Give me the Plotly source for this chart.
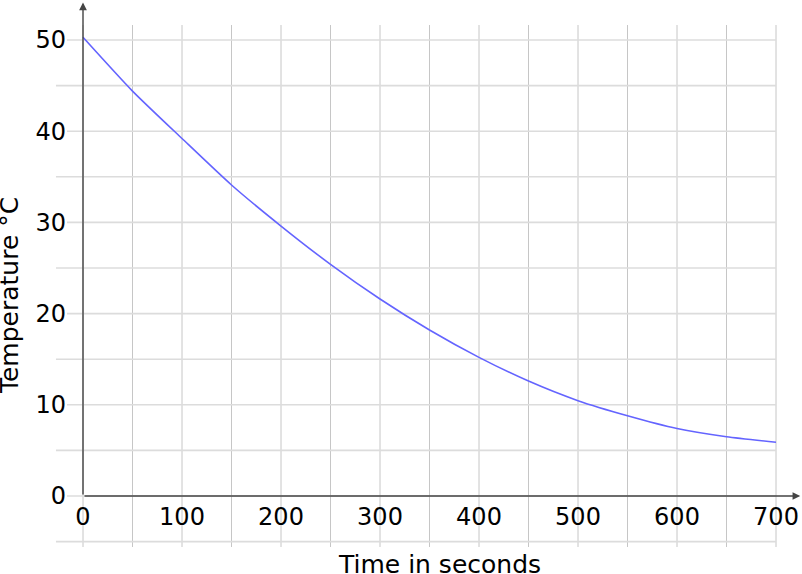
import plotly.graph_objects as go

# ---- data ----
time_s = [0, 50, 100, 150, 200, 250, 300, 350, 400, 450, 500, 550, 600, 650, 700]
temperature = [50.3, 44.4, 39.2, 34.1, 29.6, 25.4, 21.6, 18.2, 15.2, 12.6, 10.45, 8.8, 7.4, 6.5, 5.9]
x_ticks = [0, 100, 200, 300, 400, 500, 600, 700]
y_ticks = [0, 10, 20, 30, 40, 50]
x_grid = list(range(0, 701, 50))
y_grid = list(range(-5, 51, 5))

# ---- geometry (axis ranges cover the whole figure) ----
W, H = 802, 574
XMIN, XMAX = -83.84, 726.26
YMIN, YMAX = -8.553, 54.386
FONT = "DejaVu Sans"

fig = go.Figure()
fig.add_trace(go.Scatter(
    x=time_s, y=temperature, mode="lines",
    line=dict(color="#6464ff", width=1.6, shape="spline", smoothing=0.6),
    hoverinfo="skip", showlegend=False,
))

shapes = []
for xv in x_grid:
    shapes.append(dict(type="line", xref="x", yref="y", x0=xv, x1=xv, y0=-5.59, y1=51.64,
                       line=dict(color="#c6c6c6", width=1), layer="below"))
for yv in y_grid:
    x0 = -16.2 if yv in y_ticks else -27.3
    shapes.append(dict(type="line", xref="x", yref="y", x0=x0, x1=700, y0=yv, y1=yv,
                       line=dict(color="#dcdcdc", width=1.6), layer="below"))

annotations = [
    # x axis with arrow
    dict(x=724.5, y=0, ax=0, ay=0, xref="x", yref="y", axref="x", ayref="y",
         text="", showarrow=True, arrowhead=2, arrowsize=1.1, arrowwidth=1.4, arrowcolor="#444"),
    # y axis with arrow
    dict(x=0, y=54.1, ax=0, ay=0, xref="x", yref="y", axref="x", ayref="y",
         text="", showarrow=True, arrowhead=2, arrowsize=1.1, arrowwidth=1.4, arrowcolor="#444"),
    dict(x=359.6, y=-7.55, xref="x", yref="y", text="Time in seconds", showarrow=False,
         font=dict(family=FONT, size=25, color="black"), xanchor="center", yanchor="middle"),
    dict(x=-74.0, y=22.0, xref="x", yref="y", text="Temperature °C", showarrow=False,
         textangle=-90, font=dict(family=FONT, size=25, color="black"),
         xanchor="center", yanchor="middle"),
]

fig.update_layout(
    width=W, height=H,
    margin=dict(l=0, r=0, t=0, b=0, pad=0),
    paper_bgcolor="white", plot_bgcolor="white",
    font=dict(family=FONT, size=24, color="black"),
    shapes=shapes, annotations=annotations,
    xaxis=dict(range=[XMIN, XMAX], domain=[0, 1], showgrid=False, zeroline=False,
               showline=False, tickmode="array", tickvals=x_ticks,
               ticktext=[str(v) for v in x_ticks], ticks="", anchor="free",
               position=(0 - YMIN) / (YMAX - YMIN), side="bottom",
               ticklabelstandoff=4, automargin=False, fixedrange=True,
               tickfont=dict(family=FONT, size=24, color="black")),
    yaxis=dict(range=[YMIN, YMAX], domain=[0, 1], showgrid=False, zeroline=False,
               showline=False, tickmode="array", tickvals=y_ticks,
               ticktext=[str(v) for v in y_ticks], ticks="", anchor="free",
               position=(0 - XMIN) / (XMAX - XMIN), side="left",
               ticklabelstandoff=17, automargin=False, fixedrange=True,
               tickfont=dict(family=FONT, size=24, color="black")),
)

# remove the browser's default page margin so the figure sits at the window's corner
fig.write_html("out.html", config={"displayModeBar": False},
               post_script="document.body.style.margin='0';document.body.style.overflow='hidden';")
